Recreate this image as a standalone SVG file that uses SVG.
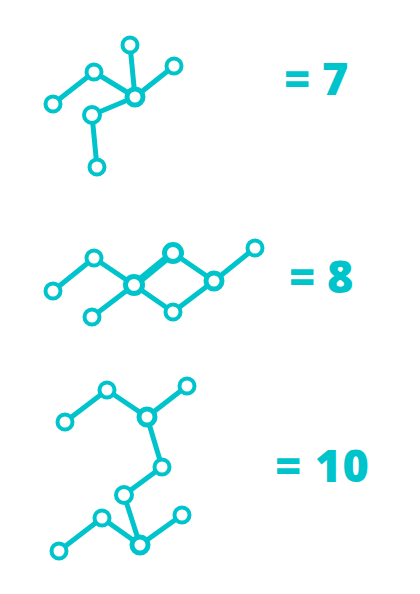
<svg xmlns="http://www.w3.org/2000/svg" width="420" height="594" viewBox="0 0 420 594">
<style>
.e{stroke:#00c4cc;stroke-width:5;stroke-linecap:round;fill:none}
.n{fill:#fff;stroke:#00c4cc;stroke-width:4}
.h{fill:#fff;stroke:#00c4cc;stroke-width:5}
.t{font-family:"Open Sans",sans-serif;font-weight:800;font-size:45px;fill:#00c4cc}
</style>
<rect width="420" height="594" fill="#fff"/>
<g id="connectors">
<line class="e" x1="53" y1="104" x2="94" y2="72"/>
<line class="e" x1="94" y1="72" x2="135" y2="97"/>
<line class="e" x1="130" y1="45" x2="135" y2="97"/>
<line class="e" x1="174" y1="66" x2="135" y2="97"/>
<line class="e" x1="135" y1="97" x2="92" y2="115"/>
<line class="e" x1="92" y1="115" x2="97" y2="167"/>

<line class="e" x1="53" y1="291" x2="94" y2="258"/>
<line class="e" x1="94" y1="258" x2="134" y2="285"/>
<line class="e" x1="134" y1="285" x2="92" y2="317"/>
<line class="e" x1="134" y1="285" x2="173" y2="253" style="stroke-width:7.5"/>
<line class="e" x1="134" y1="285" x2="173" y2="312"/>
<line class="e" x1="173" y1="253" x2="214" y2="281"/>
<line class="e" x1="173" y1="312" x2="214" y2="281"/>
<line class="e" x1="214" y1="281" x2="255" y2="248"/>

<line class="e" x1="65" y1="422" x2="107" y2="390"/>
<line class="e" x1="107" y1="390" x2="147" y2="417"/>
<line class="e" x1="147" y1="417" x2="187" y2="386"/>
<line class="e" x1="147" y1="417" x2="162" y2="467"/>
<line class="e" x1="162" y1="467" x2="124" y2="495"/>
<line class="e" x1="124" y1="495" x2="140" y2="545"/>
<line class="e" x1="59" y1="551" x2="102" y2="518"/>
<line class="e" x1="102" y1="518" x2="140" y2="545"/>
<line class="e" x1="140" y1="545" x2="182" y2="515"/>
</g>
<g id="g1">
<g id="g1n1"><circle class="n" cx="53" cy="104" r="7.5"/></g>
<g id="g1n2"><circle class="n" cx="94" cy="72" r="7.5"/></g>
<g id="g1n3"><circle class="n" cx="130" cy="45" r="7.5"/></g>
<g id="g1n4"><circle class="n" cx="174" cy="66" r="7.5"/></g>
<g id="g1n5"><circle class="h" cx="135" cy="97" r="8"/></g>
<g id="g1n6"><circle class="n" cx="92" cy="115" r="8"/></g>
<g id="g1n7"><circle class="n" cx="97" cy="167" r="7.5"/></g>
</g>
<g id="g2">
<g id="g2n1"><circle class="n" cx="53" cy="291" r="7.5"/></g>
<g id="g2n2"><circle class="n" cx="94" cy="258" r="7.5"/></g>
<g id="g2n3"><circle class="h" cx="134" cy="285" r="8.5"/></g>
<g id="g2n4"><circle class="n" cx="92" cy="317" r="7.5"/></g>
<g id="g2n5"><circle class="h" cx="173" cy="253" r="8.5"/></g>
<g id="g2n6"><circle class="n" cx="173" cy="312" r="7.5"/></g>
<g id="g2n7"><circle class="h" cx="214" cy="281" r="8"/></g>
<g id="g2n8"><circle class="n" cx="255" cy="248" r="7.5"/></g>
</g>
<g id="g3">
<g id="g3n1"><circle class="n" cx="65" cy="422" r="7.5"/></g>
<g id="g3n2"><circle class="n" cx="107" cy="390" r="7.5"/></g>
<g id="g3n3"><circle class="h" cx="147" cy="417" r="8"/></g>
<g id="g3n4"><circle class="n" cx="187" cy="386" r="7.5"/></g>
<g id="g3n5"><circle class="n" cx="162" cy="467" r="7.5"/></g>
<g id="g3n6"><circle class="n" cx="124" cy="495" r="8"/></g>
<g id="g3n7"><circle class="n" cx="102" cy="518" r="7.5"/></g>
<g id="g3n8"><circle class="n" cx="59" cy="551" r="7.5"/></g>
<g id="g3n9"><circle class="h" cx="140" cy="545" r="8"/></g>
<g id="g3n10"><circle class="n" cx="182" cy="515" r="7.5"/></g>
</g>
<g id="labels">
<text class="t" x="284" y="95">= 7</text>
<text class="t" x="289" y="293">= 8</text>
<text class="t" x="275" y="482" letter-spacing="1">= 10</text>
</g>
</svg>
